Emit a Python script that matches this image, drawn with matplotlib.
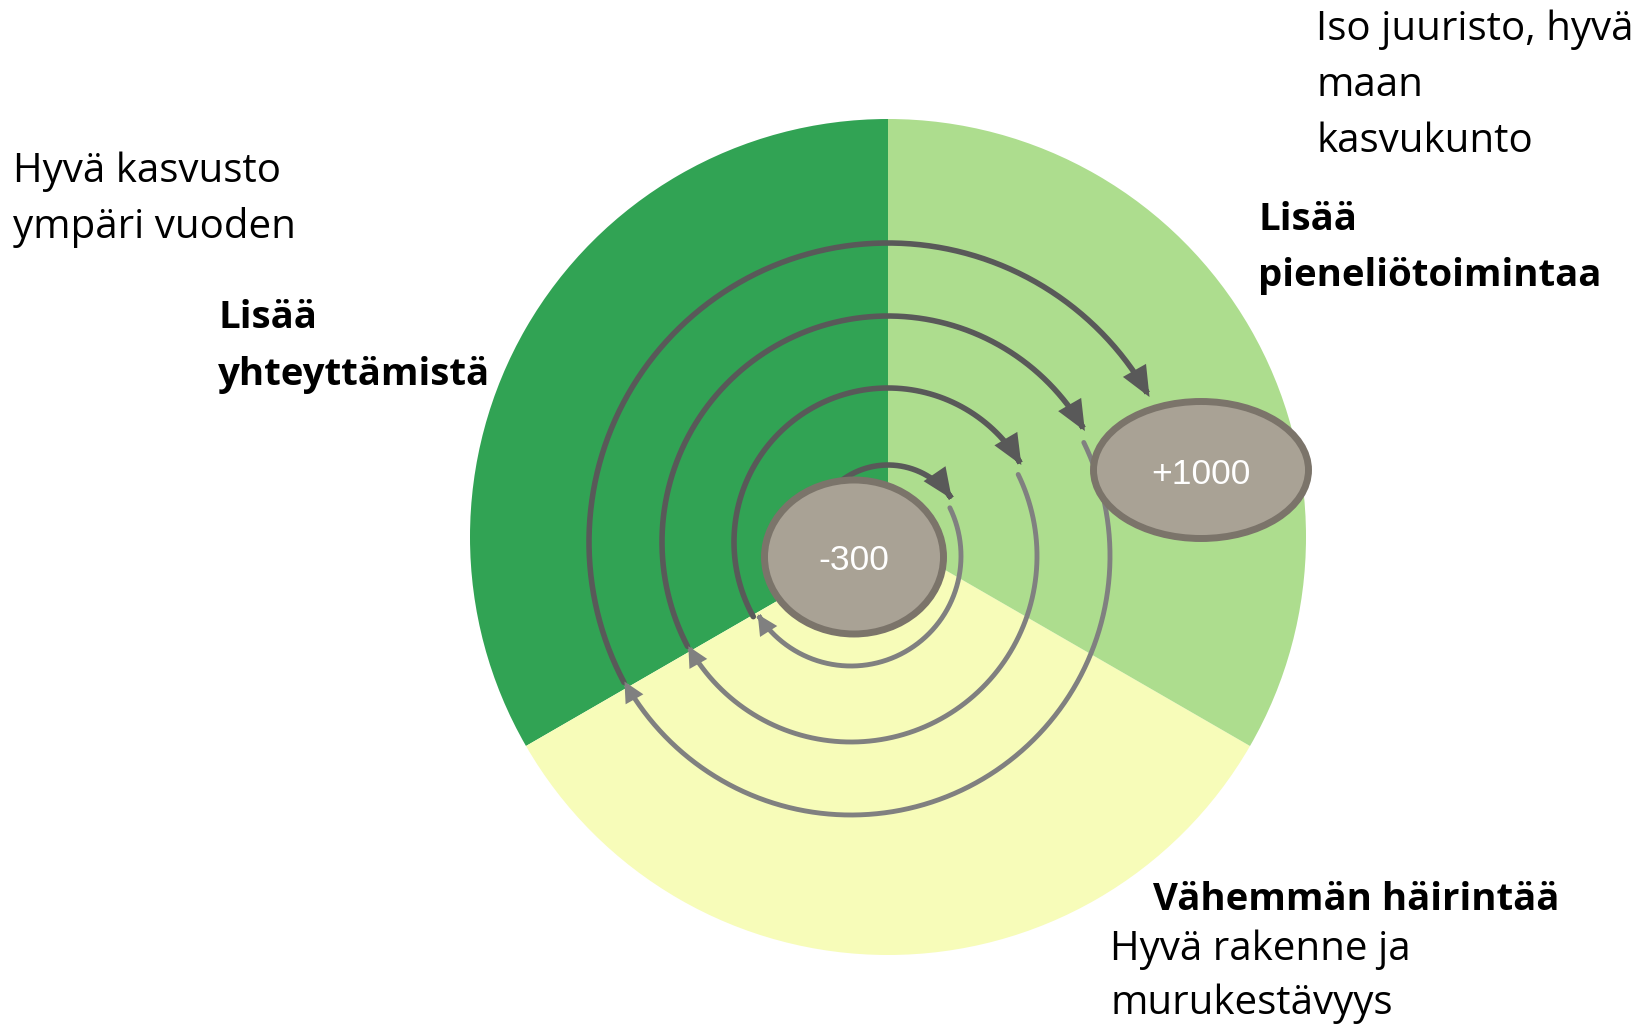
import numpy as np
import matplotlib.pyplot as plt
from matplotlib.patches import Wedge, Ellipse, FancyArrowPatch
from matplotlib.path import Path

W, H = 1651, 1033

# three equal sectors of the circle (start/end angle in degrees)
sector_names = ['yhteyttäminen', 'häirintä', 'pieneliöt']
sector_angles = [(90, 210), (210, 330), (-30, 90)]
sector_colors = ['#31a354', '#f7fcb9', '#addd8e']

# spiral: upper (dark) arcs and lower (light) arcs, radius + start/end angle
upper_radius = [77, 154, 226, 299]
upper_start = [180, 209, 207.5, 208]
upper_end = [34, 30, 29.4, 29]
lower_radius = [110, 186, 259]
lower_start = [26, 26, 26]
lower_end = [-148, -151, -151]

# ellipse labels
bubble_labels = ['-300', '+1000']

# text blocks: lines, x, baselines, bold
texts = [
    (['Hyvä kasvusto', 'ympäri vuoden'], 13, [182, 238], False),
    (['Lisää', 'yhteyttämistä'], 218, [328, 385], True),
    (['Iso juuristo, hyvä', 'maan', 'kasvukunto'], 1316, [40, 96, 152], False),
    (['Lisää', 'pieneliötoimintaa'], 1258, [230, 286], True),
    (['Vähemmän häirintää'], 1153, [910], True),
    (['Hyvä rakenne ja', 'murukestävyys'], 1110, [960, 1014], False),
]

fig = plt.figure(figsize=(W / 100, H / 100), dpi=100)
ax = fig.add_axes([0, 0, 1, 1])
ax.set_xlim(0, W)
ax.set_ylim(0, H)
ax.axis('off')

cx, cy, R = 888, H - 537, 418
for (a0, a1), col in zip(sector_angles, sector_colors):
    ax.add_patch(Wedge((cx, cy), R, a0, a1, facecolor=col, edgecolor='none', zorder=1))


def arc(center, r, t0, t1, color, lw, hl, hw, z=3):
    t = np.radians(np.linspace(t0, t1, 200))
    pts = np.column_stack([center[0] + r * np.cos(t), center[1] + r * np.sin(t)])
    p = FancyArrowPatch(path=Path(pts),
                        arrowstyle='-|>,head_length=%g,head_width=%g' % (hl, hw),
                        mutation_scale=1, lw=lw, color=color,
                        shrinkA=0, shrinkB=0, zorder=z, joinstyle='miter')
    ax.add_patch(p)


top_c = (888, H - 542)
bot_c = (851, H - 556)
for r, a0, a1 in zip(upper_radius, upper_start, upper_end):
    arc(top_c, r, a0, a1, '#595959', 4, 15, 6.5)
for r, a0, a1 in zip(lower_radius, lower_start, lower_end):
    arc(bot_c, r, a0, a1, '#808080', 3.5, 9, 4.5)

# ellipses
bubbles = [((854, H - 557), 179, 154), ((1201, H - 470), 215, 137)]
for (xy, w, h), lab in zip(bubbles, bubble_labels):
    ax.add_patch(Ellipse(xy, w, h, facecolor='#a9a295', edgecolor='#7b746a', lw=5, zorder=5))
    ax.text(xy[0], xy[1] - 4, lab, color='white', fontsize=25.5, family='Liberation Sans',
            ha='center', va='center', zorder=6)

for lines, x, bases, bold in texts:
    for line, b in zip(lines, bases):
        ax.text(x, H - b, line, fontsize=27.6 if bold else 29, family='Open Sans',
                fontweight='bold' if bold else 'normal', ha='left', va='baseline',
                color='black', zorder=7)

fig.savefig('out.png', dpi=100)
